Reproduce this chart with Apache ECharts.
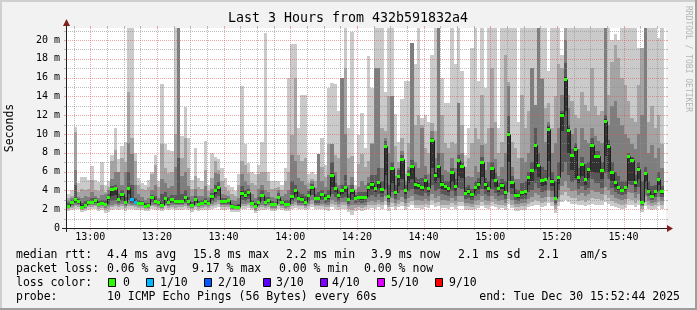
<!DOCTYPE html>
<html><head><meta charset="utf-8">
<script src="https://cdn.jsdelivr.net/npm/echarts@6/dist/echarts.min.js"></script>
<style>html,body{margin:0;padding:0;background:#f2f2f2;overflow:hidden}#c{width:697px;height:310px}</style>
</head><body><div id="c"></div>
<script>
// ---------- time frame ----------
const START = new Date(2025, 11, 30, 12, 52, 44).getTime();
const END = new Date(2025, 11, 30, 15, 52, 44).getTime();
const FIRST_STEP_END = new Date(2025, 11, 30, 12, 53, 0).getTime();
const STEP = 60000;
const YMAX = 21.28;

// ---------- data (ms), one value per 1-minute step ----------
const median = [2.45,2.38,2.77,3.09,2.91,2.23,2.48,2.80,2.80,2.98,
 2.59,2.70,2.59,3.33,4.11,4.22,3.09,3.62,2.80,4.22,
 3.09,2.77,2.66,2.66,2.38,2.48,3.26,2.91,2.77,2.48,
 3.19,2.77,3.09,2.91,2.91,2.91,3.26,2.84,2.48,3.09,
 2.55,2.66,2.84,2.66,3.37,4.01,4.33,2.84,2.91,2.94,
 2.30,2.27,2.27,3.76,3.55,3.83,2.66,2.30,2.77,3.55,
 2.77,2.98,2.55,2.55,3.33,2.77,2.55,2.59,3.37,4.01,
 3.19,3.12,2.77,3.55,4.33,3.19,3.19,3.62,3.19,3.37,
 5.67,4.26,3.48,4.01,4.33,3.09,4.01,3.19,3.33,3.26,
 3.26,4.36,4.72,4.26,4.86,4.15,8.72,3.37,6.38,3.79,
 5.50,7.34,4.01,5.78,6.56,4.72,4.61,4.33,5.07,4.22,
 9.33,5.67,6.56,4.72,4.50,4.26,5.96,4.43,7.20,6.56,
 3.76,3.97,3.62,4.33,4.72,6.99,4.72,4.26,6.35,5.07,
 4.26,4.61,3.83,10.04,4.89,3.55,3.48,3.79,3.90,5.43,
 6.17,8.87,6.70,5.11,5.21,10.57,5.04,3.16,5.43,12.06,
 15.89,10.43,7.77,8.44,5.43,6.81,5.18,6.28,8.87,7.66,
 7.66,6.13,11.42,8.76,5.96,4.89,4.36,4.08,4.36,7.62,
 7.27,4.89,6.31,2.77,5.85,3.97,3.44,3.90,5.21,3.90];

// loss (in tenths) for the steps that lost packets; all other steps 0
const lossStep = [20, 21];
const lossTenths = [1, 1];

// sorted pings (smoke), p1 = fastest ... p10 = slowest
const p1 = [1.9,1.8,1.9,2.0,2.0,1.7,1.8,1.9,2.0,2.0,
 1.8,1.9,1.6,1.7,1.9,2.0,1.9,2.0,1.8,2.0,
 2.0,1.9,1.9,1.9,1.8,1.8,2.0,1.9,1.9,1.8,
 2.0,1.9,2.0,1.9,1.9,1.9,2.0,1.9,1.7,1.9,
 1.8,1.9,1.9,1.9,2.0,2.1,2.2,1.9,1.9,2.0,
 1.7,1.7,1.7,2.0,2.0,2.1,1.9,1.6,1.8,1.9,
 1.9,2.0,1.8,1.8,2.0,1.9,1.8,1.8,2.0,2.1,
 2.0,2.0,1.9,2.0,2.2,2.0,2.0,2.0,1.9,1.8,
 2.2,2.0,1.9,2.0,2.0,1.7,1.4,1.8,1.9,1.8,
 1.9,2.0,2.1,2.0,2.2,2.0,2.4,1.8,2.2,1.9,
 2.2,2.3,1.9,2.2,2.4,2.1,2.1,2.0,2.2,2.1,
 2.5,2.2,2.3,2.1,2.1,2.0,2.2,2.0,2.3,2.3,
 1.9,1.9,1.9,2.0,2.1,2.3,2.1,2.0,2.3,2.2,
 2.0,2.1,1.9,2.6,2.1,1.8,1.8,1.9,1.9,2.2,
 2.3,2.5,2.4,2.2,2.3,2.7,2.3,1.6,2.3,2.8,
 3.0,2.8,2.6,2.6,2.4,2.5,2.3,2.4,2.6,2.5,
 2.5,2.4,2.8,2.6,2.3,2.2,2.1,2.0,2.1,2.5,
 2.5,2.2,2.4,1.7,2.3,2.0,1.9,2.0,2.3,2.0];
const p2 = [2.1,2.0,2.1,2.3,2.2,1.9,2.0,2.2,2.2,2.3,
 2.0,2.1,1.9,2.0,2.2,2.3,2.2,2.3,2.1,2.3,
 2.3,2.2,2.1,2.1,2.0,2.0,2.3,2.2,2.1,2.0,
 2.3,2.1,2.2,2.1,2.2,2.2,2.3,2.1,2.0,2.2,
 2.0,2.1,2.2,2.1,2.3,2.4,2.6,2.2,2.2,2.2,
 1.9,1.9,1.9,2.3,2.3,2.4,2.1,1.8,2.1,2.2,
 2.1,2.2,2.0,2.0,2.3,2.1,2.0,2.0,2.3,2.4,
 2.3,2.3,2.1,2.3,2.6,2.3,2.3,2.3,2.2,2.2,
 2.6,2.4,2.2,2.4,2.4,2.0,1.9,2.1,2.2,2.1,
 2.2,2.4,2.5,2.4,2.6,2.4,2.9,2.2,2.7,2.3,
 2.6,2.8,2.3,2.7,2.9,2.5,2.5,2.4,2.6,2.5,
 3.0,2.7,2.8,2.5,2.5,2.4,2.7,2.4,2.8,2.8,
 2.3,2.3,2.2,2.4,2.5,2.8,2.5,2.4,2.8,2.6,
 2.4,2.5,2.3,3.1,2.5,2.2,2.2,2.3,2.3,2.6,
 2.8,3.0,2.9,2.7,2.8,3.3,2.8,2.0,2.8,3.5,
 3.8,3.4,3.2,3.2,2.9,3.0,2.8,3.0,3.2,3.1,
 3.1,3.0,3.5,3.2,2.9,2.7,2.6,2.5,2.6,3.1,
 3.0,2.7,3.0,2.0,2.8,2.5,2.3,2.4,2.8,2.5];
const p3 = [2.2,2.1,2.3,2.5,2.4,2.0,2.1,2.4,2.4,2.5,
 2.2,2.3,2.1,2.3,2.5,2.6,2.4,2.6,2.3,2.6,
 2.5,2.4,2.3,2.3,2.1,2.15,2.5,2.4,2.3,2.15,
 2.5,2.3,2.5,2.4,2.4,2.4,2.6,2.3,2.1,2.5,
 2.2,2.3,2.4,2.3,2.6,2.8,3.0,2.4,2.4,2.4,
 2.0,2.0,2.0,2.6,2.6,2.7,2.3,1.95,2.3,2.5,
 2.3,2.4,2.15,2.15,2.6,2.3,2.15,2.2,2.6,2.8,
 2.5,2.5,2.3,2.6,3.0,2.5,2.5,2.6,2.5,2.5,
 3.0,2.8,2.6,2.8,2.8,2.3,2.4,2.4,2.5,2.4,
 2.5,2.8,2.9,2.8,3.0,2.8,3.4,2.5,3.2,2.7,
 3.0,3.3,2.7,3.2,3.4,3.0,3.0,2.9,3.1,2.9,
 3.6,3.2,3.4,3.0,3.0,2.9,3.2,2.9,3.4,3.4,
 2.7,2.7,2.6,2.9,3.0,3.4,3.0,2.9,3.4,3.1,
 2.9,3.0,2.7,3.8,3.0,2.6,2.6,2.7,2.7,3.1,
 3.3,3.7,3.5,3.2,3.3,4.0,3.3,2.4,3.3,4.5,
 5.0,4.3,3.9,4.0,3.5,3.7,3.4,3.6,4.0,3.8,
 3.8,3.6,4.4,4.0,3.5,3.2,3.1,3.0,3.1,3.8,
 3.7,3.2,3.6,2.3,3.4,2.9,2.7,2.8,3.3,2.9];
const p4 = [2.3,2.2,2.5,2.7,2.6,2.1,2.2,2.5,2.55,2.7,
 2.35,2.45,2.3,2.6,2.9,3.0,2.7,2.9,2.5,3.0,
 2.7,2.55,2.45,2.4,2.2,2.3,2.8,2.6,2.5,2.3,
 2.7,2.5,2.7,2.6,2.6,2.6,2.8,2.5,2.25,2.7,
 2.35,2.45,2.55,2.45,2.9,3.2,3.4,2.6,2.6,2.6,
 2.1,2.1,2.1,3.0,2.9,3.1,2.45,2.1,2.5,2.9,
 2.5,2.65,2.3,2.3,2.9,2.5,2.3,2.35,2.9,3.2,
 2.7,2.7,2.5,2.9,3.5,2.7,2.7,3.0,2.7,2.8,
 3.6,3.3,2.9,3.2,3.3,2.6,3.0,2.7,2.8,2.7,
 2.8,3.3,3.5,3.3,3.6,3.3,4.2,2.8,3.8,3.1,
 3.7,4.0,3.1,3.9,4.2,3.6,3.5,3.4,3.7,3.4,
 4.6,3.9,4.2,3.6,3.5,3.4,3.9,3.4,4.3,4.2,
 3.1,3.2,3.0,3.4,3.6,4.2,3.6,3.4,4.2,3.7,
 3.4,3.5,3.1,5.0,3.6,3.0,2.9,3.1,3.1,3.8,
 4.0,4.8,4.3,3.8,3.9,5.4,3.9,2.7,4.0,6.0,
 7.0,5.6,4.9,5.1,4.1,4.5,4.0,4.3,5.2,4.8,
 4.8,4.3,5.8,5.2,4.3,3.8,3.6,3.5,3.6,4.7,
 4.6,3.8,4.4,2.5,4.1,3.4,3.0,3.3,3.9,3.3];
const p5 = [2.35,2.3,2.6,2.9,2.75,2.15,2.35,2.65,2.7,2.85,
 2.45,2.6,2.45,3.0,3.4,3.5,2.9,3.3,2.65,3.6,
 2.9,2.65,2.55,2.55,2.3,2.4,3.05,2.8,2.65,2.4,
 3.0,2.65,2.9,2.8,2.8,2.8,3.05,2.7,2.4,2.9,
 2.45,2.55,2.7,2.55,3.1,3.6,3.9,2.7,2.75,2.8,
 2.2,2.2,2.2,3.4,3.2,3.5,2.55,2.2,2.65,3.3,
 2.65,2.85,2.45,2.45,3.1,2.65,2.45,2.5,3.1,3.6,
 2.95,2.9,2.65,3.3,4.0,3.0,3.0,3.4,3.0,3.1,
 4.4,3.8,3.2,3.6,3.8,2.9,3.6,3.0,3.1,3.0,
 3.05,3.9,4.2,3.8,4.3,3.7,5.6,3.1,4.8,3.5,
 4.5,5.2,3.6,4.8,5.2,4.2,4.1,3.9,4.4,3.8,
 6.4,4.8,5.3,4.2,4.0,3.8,4.9,3.9,5.5,5.3,
 3.5,3.6,3.35,3.9,4.2,5.4,4.2,3.8,5.2,4.4,
 3.8,4.1,3.5,7.0,4.3,3.3,3.2,3.5,3.5,4.6,
 5.0,6.3,5.4,4.5,4.6,7.1,4.5,2.95,4.7,10.3,
 12.4,8.0,6.2,5.3,4.8,5.5,4.6,5.3,6.0,5.8,
 5.8,5.2,7.7,6.0,5.0,4.4,4.0,3.8,4.0,5.0,
 5.0,4.4,5.2,2.65,4.9,3.75,3.3,3.6,4.6,3.6];
const p6 = [2.55,2.5,2.85,3.2,3.0,2.4,2.6,2.9,2.9,3.1,
 2.7,2.8,2.7,3.45,4.2,4.3,3.2,3.75,2.9,4.3,
 3.2,2.9,2.8,2.75,2.5,2.6,3.35,3.0,2.9,2.6,
 3.3,2.9,3.2,3.0,3.0,3.0,3.4,2.95,2.6,3.2,
 2.65,2.75,2.95,2.75,3.5,4.1,4.45,2.95,3.0,3.05,
 2.4,2.35,2.4,3.9,3.65,3.95,2.75,2.4,2.9,3.65,
 2.9,3.1,2.65,2.65,3.45,2.9,2.65,2.7,3.5,4.1,
 3.3,3.25,2.9,3.65,4.45,3.3,3.3,3.75,3.3,3.5,
 5.8,4.4,3.6,4.15,4.45,3.2,4.15,3.3,3.45,3.4,
 3.4,4.5,4.85,4.4,5.0,4.3,8.85,3.5,6.5,3.9,
 5.65,7.5,4.15,5.9,6.7,4.85,4.75,4.45,5.2,4.35,
 9.5,5.8,6.7,4.85,4.6,4.4,6.1,4.55,7.35,6.7,
 3.9,4.1,3.75,4.45,4.85,7.1,4.85,4.4,6.5,5.2,
 4.4,4.75,3.95,10.2,5.0,3.7,3.6,3.9,4.0,5.55,
 6.3,9.0,6.85,5.25,5.35,10.7,5.2,3.3,5.55,12.2,
 16.05,10.6,7.9,8.6,5.55,6.95,5.3,6.4,9.0,7.8,
 7.8,6.25,11.6,8.9,6.1,5.0,4.5,4.2,4.5,7.75,
 7.4,5.0,6.45,2.9,6.0,4.1,3.6,4.0,5.35,4.0];
const p7 = [2.65,2.7,3.0,4.6,3.1,2.7,2.9,3.0,3.2,3.2,
 2.9,3.0,3.0,3.6,4.5,4.6,3.6,4.0,3.3,6.0,
 4.6,3.2,3.0,2.9,2.7,2.7,3.5,3.4,3.0,3.6,
 3.8,3.3,3.5,3.5,7.4,3.6,4.0,3.3,2.8,3.4,
 2.9,3.0,3.2,3.0,3.7,4.6,4.9,3.2,3.2,3.1,
 2.6,2.5,2.6,4.5,4.0,4.2,3.0,2.7,3.3,4.0,
 3.3,3.3,2.9,2.8,3.7,3.0,3.0,3.0,5.0,4.6,
 3.8,3.6,3.4,3.9,4.7,3.6,3.8,4.0,3.6,4.0,
 7.0,4.8,4.0,4.6,5.6,3.6,4.6,3.5,3.8,3.8,
 3.8,4.8,5.6,5.6,6.4,5.0,9.3,4.6,7.0,4.6,
 6.2,7.8,4.6,6.2,7.2,5.4,5.2,5.3,5.6,4.8,
 9.6,6.0,8.0,5.6,5.0,5.0,6.4,5.2,7.8,7.0,
 4.4,4.6,4.2,5.0,5.3,7.6,5.3,5.0,7.0,5.8,
 4.8,5.2,5.0,11.9,5.5,4.2,4.0,4.8,5.0,6.0,
 7.0,10.6,8.0,6.5,6.2,11.0,6.0,5.0,7.0,12.5,
 17.6,11.0,8.4,9.0,6.4,7.6,6.8,7.0,9.6,8.2,
 8.2,7.0,12.0,9.4,7.0,6.0,5.5,5.0,5.0,8.0,
 7.6,5.6,7.0,5.0,6.5,5.0,4.5,4.6,6.0,4.5];
const p8 = [2.8,2.9,3.2,6.2,3.3,3.2,3.4,3.3,3.8,3.4,
 3.2,3.5,3.6,4.0,5.2,6.0,6.0,4.6,6.0,9.0,
 7.9,4.6,3.6,3.3,3.0,3.2,4.0,4.6,3.2,5.2,
 4.8,4.3,4.5,6.5,25,5.5,6.0,4.5,3.4,4.2,
 3.4,3.4,4.5,3.3,4.2,5.8,5.7,3.6,3.5,3.4,
 3.0,2.9,3.2,5.7,5.0,4.6,3.6,3.2,4.2,4.6,
 4.0,3.8,3.3,3.2,4.0,3.4,3.6,4.0,7.8,7.1,
 5.3,5.0,4.6,4.2,5.0,4.3,7.9,5.0,4.4,5.6,
 8.9,6.0,4.6,16.0,10.0,4.6,5.4,3.8,4.4,5.0,
 4.6,5.4,8.9,17.0,17.0,6.4,9.6,8.0,14.0,5.5,
 6.4,8.2,5.0,6.5,19.7,7.0,6.4,10.6,6.6,5.7,
 10.3,7.4,25,8.0,6.2,6.0,7.5,6.4,13.3,8.0,
 5.4,5.5,5.4,6.6,6.0,8.8,6.2,7.0,10.6,7.3,
 5.5,6.5,8.0,15.1,6.5,5.2,5.2,7.4,7.0,8.0,
 17.0,13.1,25,15.9,9.2,11.3,8.0,9.0,10.6,14.2,
 20.0,12.8,10.0,10.6,8.4,10.6,9.4,9.0,10.6,9.8,
 9.3,9.0,25,11.0,13.0,13.5,11.7,11.0,10.0,9.6,
 8.9,8.4,10.0,12.0,25,8.0,8.8,7.4,8.5,6.4];
const p9 = [3.0,3.2,3.4,10.2,3.8,4.2,4.0,4.2,5.1,4.0,
 3.9,4.6,3.8,4.4,7.1,8.3,6.0,7.4,7.0,14.5,
 9.6,7.1,4.6,4.2,4.0,4.4,5.7,6.7,4.4,8.9,
 6.4,5.8,6.0,10.0,25,7.4,9.6,6.4,4.2,5.5,
 4.4,4.2,6.2,3.9,5.3,7.1,6.2,5.0,4.4,3.9,
 3.6,3.4,4.6,7.1,6.7,5.8,4.8,4.6,5.7,6.0,
 6.0,5.0,4.2,4.3,4.4,4.0,5.0,6.0,9.9,16.0,
 7.8,7.1,7.4,4.8,5.2,5.0,7.9,6.5,5.4,8.9,
 8.9,7.8,7.5,16.0,17.0,7.5,7.7,4.1,6.8,7.9,
 6.5,7.1,9.0,17.0,17.0,10.6,10.3,14.0,14.0,8.7,
 7.0,9.6,5.7,9.0,19.7,11.0,12.0,11.0,8.5,8.0,
 11.2,10.3,25,12.0,9.0,8.5,9.2,8.9,13.3,11.0,
 6.5,7.4,9.0,10.6,9.5,14.2,8.9,10.6,17.0,11.3,
 8.0,9.2,18.4,15.5,9.2,8.5,7.4,14.2,10.6,12.5,
 17.0,13.1,25,16.0,12.8,13.3,10.6,14.0,17.4,17.0,
 25,14.2,13.5,12.0,11.7,14.5,13.1,12.5,17.0,13.0,
 12.0,12.4,25,14.2,17.7,19.5,18.1,16.0,15.2,13.5,
 11.7,11.3,15.2,19.1,25,11.3,13.0,10.6,12.0,8.9];
const p10 = [3.4,3.6,4.0,10.7,4.8,5.4,5.4,5.1,6.6,5.1,
 4.9,7.0,4.6,5.0,7.8,10.6,7.3,8.7,9.2,25,
 25,8.0,5.3,4.8,4.6,5.1,6.0,7.8,5.0,15.3,
 8.9,8.3,8.2,25,25,9.8,12.9,9.6,5.1,8.5,
 5.3,5.0,9.3,4.6,8.0,7.6,7.3,6.4,5.3,4.6,
 4.4,3.9,5.7,15.1,8.9,6.9,6.0,5.7,6.7,9.2,
 20.7,6.0,5.0,5.0,5.0,4.6,6.4,16.0,19.6,19.6,
 10.6,14.2,14.2,5.7,6.0,5.7,7.9,9.6,6.7,14.9,
 15.4,15.3,12.4,16.0,25,10.6,20.9,4.6,9.9,12.2,
 8.5,18.3,14.9,25,25,25,14.5,25,25,12.1,
 9.2,13.7,15.6,15.6,19.7,17.4,25,11.7,12.0,11.3,
 18.4,25,25,16.0,13.3,13.3,25,17.4,25,16.7,
 7.8,10.6,19.1,25,15.6,25,14.9,25,25,25,
 10.6,25,25,25,25,25,11.3,25,25,25,
 25,25,25,25,25,16.7,25,25,25,18.4,
 25,25,25,25,25,25,25,25,25,25,
 25,25,25,25,20.0,20.6,20.0,25,25,25,
 25,25,19.1,19.1,25,25,25,25,20.2,25];

// ---------- axis ticks / texts ----------
const yTickValues = [0,2,4,6,8,10,12,14,16,18,20];
const xTickLabels = ['13:00','13:20','13:40','14:00','14:20','14:40','15:00','15:20','15:40'];
const titleText = 'Last 3 Hours from 432b591832a4';
const yAxisTitle = 'Seconds';
const sideText = 'RRDTOOL / TOBI OETIKER';
const statsRtt = ['median rtt:', '4.4 ms avg', '15.8 ms max', '2.2 ms min', '3.9 ms now', '2.1 ms sd', '2.1', 'am/s'];
const statsLoss = ['packet loss:', '0.06 % avg', '9.17 % max', '0.00 % min', '0.00 % now'];
const lossLegendTitle = 'loss color:';
const lossLegendLabels = ['0', '1/10', '2/10', '3/10', '4/10', '5/10', '9/10'];
const lossLegendKeys = [0, 1, 2, 3, 4, 5, 9];
const probeLine = ['probe:', '10 ICMP Echo Pings (56 Bytes) every 60s', 'end: Tue Dec 30 15:52:44 2025'];

// ---------- styles / layout ----------
const SMOKE = ['#cacaca', '#a4a4a4', '#7e7e7e', '#585858', '#323232'];
const LOSS_COLORS = {0:'#26ff00', 1:'#00b8ff', 2:'#0059ff', 3:'#5e00ff', 4:'#7e00ff', 5:'#dd00ff', 9:'#ff0000'};
const GRID_C = 'rgba(143,143,143,0.6)';
const MGRID_C = 'rgba(222,79,79,0.5)';
const AXIS_C = '#1f1f1f';
const ARROW_C = '#801f1f';
const MONO = '"DejaVu Sans Mono", monospace';
const PLOT = {left: 66, top: 28, width: 600, height: 200};
const rttX = [16, 107, 193, 286, 371, 458, 538, 580];
const lossX = [16, 107, 192, 279, 364];
const boxX = [108, 146, 204, 263, 320, 377, 435];
const boxLabelX = [123, 160, 218, 276, 332, 391, 449];
const ROW_Y = [255, 269, 283, 297];

// ---------- build series data ----------
function lossOf(k) { const i = lossStep.indexOf(k); return i < 0 ? 0 : lossTenths[i]; }
const pings = [p1, p2, p3, p4, p5, p6, p7, p8, p9, p10];
const smokeData = median.map((m, k) => {
  const tEnd = FIRST_STEP_END + k * STEP;
  return [tEnd - STEP, tEnd].concat(pings.map(p => p[k]));
});
const medianData = median.map((m, k) => {
  const tEnd = FIRST_STEP_END + k * STEP;
  return [tEnd - STEP, tEnd, m, k > 0 ? median[k - 1] : m, lossOf(k)];
});
function labelTime(s) { const [h, mi] = s.split(':').map(Number); return new Date(2025, 11, 30, h, mi, 0).getTime(); }
const majorTimes = xTickLabels.map(labelTime);
const xLabelData = xTickLabels.map((s, i) => [majorTimes[i], 0, i]);
// grid lines every 5 minutes, major every 20 minutes (at the tick labels)
const vGridData = [];
for (let t = new Date(2025, 11, 30, 12, 55, 0).getTime(); t < END; t += 5 * 60000) {
  vGridData.push([t, 0, majorTimes.indexOf(t) >= 0 ? 1 : 0]);
}
const hGridData = [];
for (let v = 1; v <= 21; v++) hGridData.push([START, v, yTickValues.indexOf(v) >= 0 ? 1 : 0]);

function px(v) { return Math.round(v); }

function renderSmoke(params, api) {
  const t0 = api.value(0), t1 = api.value(1);
  const children = [];
  for (let b = 0; b < 5; b++) {
    const lo = api.value(2 + b), hi = api.value(11 - b);
    const a = api.coord([t0, hi]), c = api.coord([t1, lo]);
    const x0 = px(a[0]), x1 = px(c[0]), y0 = px(a[1]), y1 = px(c[1]);
    children.push({type: 'rect', shape: {x: x0, y: y0, width: x1 - x0, height: Math.max(0, y1 - y0)}, style: {fill: SMOKE[b]}});
  }
  return {type: 'group', children};
}

function renderMedian(params, api) {
  const t0 = api.value(0), t1 = api.value(1), m = api.value(2), mp = api.value(3), loss = api.value(4);
  const a = api.coord([t0, m]), c = api.coord([t1, m]), b = api.coord([t0, mp]);
  const x0 = px(a[0]), x1 = px(c[0]), y = px(a[1]), yp = px(b[1]);
  return {type: 'group', children: [
    {type: 'line', shape: {x1: x0 + 0.5, y1: yp + 0.5, x2: x0 + 0.5, y2: y + 0.5}, style: {stroke: '#202020', lineWidth: 1}},
    {type: 'line', shape: {x1: x0, y1: y + 0.5, x2: x1, y2: y + 0.5}, style: {stroke: '#202020', lineWidth: 1}},
    {type: 'rect', shape: {x: x0, y: y - 1, width: x1 - x0, height: 3}, style: {fill: LOSS_COLORS[loss]}}
  ]};
}

function renderVGrid(params, api) {
  const cs = params.coordSys;
  const x = px(api.coord([api.value(0), 0])[0]) + 0.5;
  const color = api.value(2) ? MGRID_C : GRID_C;
  return {type: 'group', children: [
    {type: 'line', shape: {x1: x, y1: cs.y, x2: x, y2: cs.y + cs.height}, style: {stroke: color, lineWidth: 1, lineDash: [1, 1]}},
    {type: 'line', shape: {x1: x, y1: cs.y + cs.height, x2: x, y2: cs.y + cs.height + 2}, style: {stroke: color, lineWidth: 1}},
    {type: 'line', shape: {x1: x, y1: cs.y - 2, x2: x, y2: cs.y}, style: {stroke: color, lineWidth: 1}}
  ]};
}

function renderHGrid(params, api) {
  const cs = params.coordSys;
  const y = px(api.coord([START, api.value(1)])[1]) + 0.5;
  const color = api.value(2) ? MGRID_C : GRID_C;
  return {type: 'group', children: [
    {type: 'line', shape: {x1: cs.x, y1: y, x2: cs.x + cs.width, y2: y}, style: {stroke: color, lineWidth: 1, lineDash: [1, 1]}},
    {type: 'line', shape: {x1: cs.x - 2, y1: y, x2: cs.x, y2: y}, style: {stroke: color, lineWidth: 1}},
    {type: 'line', shape: {x1: cs.x + cs.width, y1: y, x2: cs.x + cs.width + 2, y2: y}, style: {stroke: color, lineWidth: 1}}
  ]};
}

function renderXLabel(params, api) {
  const cs = params.coordSys;
  const x = api.coord([api.value(0), 0])[0];
  return {type: 'text', x: x, y: cs.y + cs.height + 9.5,
    style: {text: xTickLabels[api.value(2)], fill: '#000', fontFamily: MONO, fontSize: 10, align: 'center', verticalAlign: 'middle'}};
}

// ---------- graphics (texts, frame, axes) ----------
const g = [];
function txt(text, x, y, opts) {
  g.push(Object.assign({type: 'text', x, y, z: 20, style: Object.assign({text, fill: '#000', fontFamily: MONO, fontSize: 11.5, align: 'left', verticalAlign: 'middle'}, opts || {})}));
}
g.push({type: 'rect', z: 1, shape: {x: 0, y: 0, width: 697, height: 2}, style: {fill: '#cfcfcf'}});
g.push({type: 'rect', z: 1, shape: {x: 0, y: 0, width: 2, height: 310}, style: {fill: '#cfcfcf'}});
g.push({type: 'rect', z: 1, shape: {x: 0, y: 308, width: 697, height: 2}, style: {fill: '#9e9e9e'}});
g.push({type: 'rect', z: 1, shape: {x: 695, y: 0, width: 2, height: 310}, style: {fill: '#9e9e9e'}});
g.push({type: 'line', z: 15, shape: {x1: 62, y1: 228.5, x2: 668, y2: 228.5}, style: {stroke: AXIS_C, lineWidth: 1}});
g.push({type: 'line', z: 15, shape: {x1: 66.5, y1: 232, x2: 66.5, y2: 24}, style: {stroke: AXIS_C, lineWidth: 1}});
g.push({type: 'polygon', z: 16, shape: {points: [[667, 225], [673, 228.5], [667, 232]]}, style: {fill: ARROW_C}});
g.push({type: 'polygon', z: 16, shape: {points: [[63, 26], [66.5, 19], [70, 26]]}, style: {fill: ARROW_C}});
txt(titleText, 348, 19, {fontSize: 13.3, align: 'center'});
g.push({type: 'text', x: 10, y: 128, rotation: Math.PI / 2, z: 20, style: {text: yAxisTitle, fill: '#000', fontFamily: MONO, fontSize: 11.5, align: 'center', verticalAlign: 'middle'}});
g.push({type: 'text', x: 688, y: 59, rotation: -Math.PI / 2, z: 20, style: {text: sideText, fill: '#b4b4b4', fontFamily: MONO, fontSize: 8, align: 'center', verticalAlign: 'middle'}});
statsRtt.forEach((s, i) => txt(s, rttX[i], ROW_Y[0]));
statsLoss.forEach((s, i) => txt(s, lossX[i], ROW_Y[1]));
txt(lossLegendTitle, 16, ROW_Y[2]);
lossLegendLabels.forEach((s, i) => {
  g.push({type: 'rect', z: 20, shape: {x: boxX[i] + 0.5, y: ROW_Y[2] - 4.5, width: 7, height: 8}, style: {fill: LOSS_COLORS[lossLegendKeys[i]], stroke: '#000', lineWidth: 1}});
  txt(s, boxLabelX[i], ROW_Y[2]);
});
txt(probeLine[0], 16, ROW_Y[3]);
txt(probeLine[1], 107, ROW_Y[3]);
txt(probeLine[2], 680, ROW_Y[3], {align: 'right'});

const chart = echarts.init(document.getElementById('c'), null, {renderer: 'canvas'});
chart.setOption({
  animation: false,
  backgroundColor: '#f2f2f2',
  grid: Object.assign({show: true, backgroundColor: '#ffffff', borderWidth: 0}, PLOT),
  xAxis: {
    type: 'time', min: START, max: END,
    axisLine: {show: false}, axisTick: {show: false}, splitLine: {show: false}, axisLabel: {show: false}
  },
  yAxis: {
    type: 'value', min: 0, max: YMAX, interval: 2,
    axisLine: {show: false}, axisTick: {show: false}, splitLine: {show: false},
    axisLabel: {
      margin: 6, color: '#000', fontFamily: MONO, fontSize: 10,
      formatter: function (v) {
        const r = Math.round(v);
        if (Math.abs(v - r) > 1e-6 || yTickValues.indexOf(r) < 0) return '';
        return r === 0 ? '0' : r + ' m';
      }
    }
  },
  graphic: {elements: g},
  series: [
    {type: 'custom', name: 'smoke', z: 2, clip: true, renderItem: renderSmoke, data: smokeData,
     encode: {x: [0, 1], y: [2, 3, 4, 5, 6, 7, 8, 9, 10, 11]}, silent: true},
    {type: 'custom', name: 'vgrid', z: 3, clip: false, renderItem: renderVGrid, data: vGridData, encode: {x: 0, y: 1}, silent: true},
    {type: 'custom', name: 'hgrid', z: 3, clip: false, renderItem: renderHGrid, data: hGridData, encode: {x: 0, y: 1}, silent: true},
    {type: 'custom', name: 'median', z: 4, clip: true, renderItem: renderMedian, data: medianData,
     encode: {x: [0, 1], y: [2, 3]}, silent: true},
    {type: 'custom', name: 'xlabels', z: 5, clip: false, renderItem: renderXLabel, data: xLabelData, encode: {x: 0, y: 1}, silent: true}
  ]
});
</script>
</body></html>
